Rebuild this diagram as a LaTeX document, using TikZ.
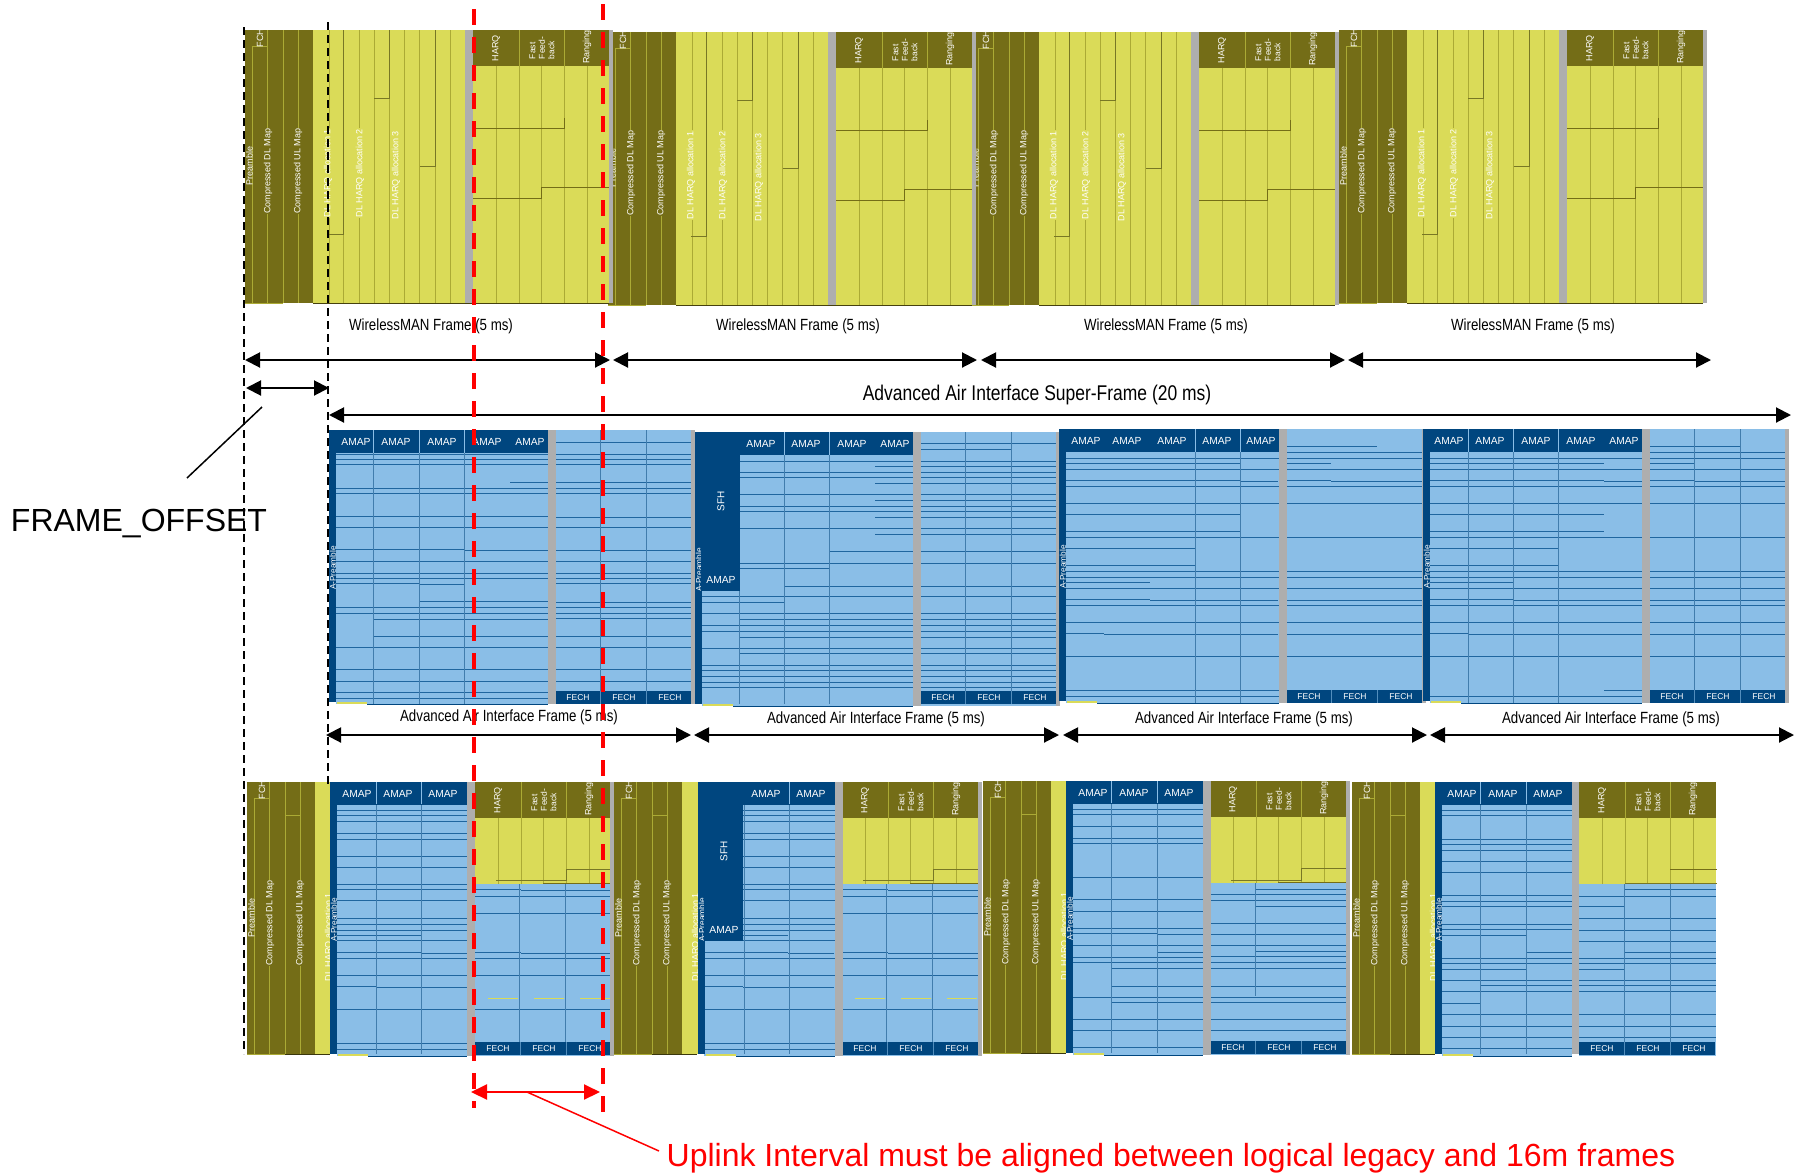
\documentclass[tikz,border=0pt]{standalone}
\usepackage{fontspec}
\setmainfont{Liberation Sans}
\newfontfamily\labelfont[FakeStretch=0.82]{Liberation Sans}
\usetikzlibrary{arrows.meta}
\definecolor{olivedark}{HTML}{746D17}
\definecolor{olivelight}{HTML}{ABAA35}
\definecolor{yellowfill}{HTML}{DADB58}
\definecolor{grayband}{HTML}{AEAEAE}
\definecolor{bluefill}{HTML}{8ABEE7}
\definecolor{bluedark}{HTML}{00467F}
\definecolor{blueline}{HTML}{20669F}
\definecolor{redline}{HTML}{FF0000}
\tikzset{
	vlabel/.style={text=white,rotate=90,inner sep=0.5pt,font=\fontsize{9}{9.5}\selectfont},
	hlabel/.style={text=white,inner sep=0.5pt,font=\fontsize{10.3}{11}\selectfont},
	fechlabel/.style={text=white,inner sep=0.5pt,font=\fontsize{8.5}{9}\selectfont},
	framelabel/.style={inner sep=0pt,font=\labelfont\fontsize{16.2}{17}\selectfont},
	hline/.style={draw=blueline,line width=1pt},
	vline/.style={draw=blueline!85!white,line width=1pt},
	yline/.style={draw=olivelight,line width=1pt},
	stepline/.style={draw=olivedark,line width=1pt},
	edgeline/.style={draw=olivelight,line width=1pt},
	dimarrow/.style={line width=2pt,{Triangle[length=15pt,width=15pt]}-{Triangle[length=15pt,width=15pt]}},
	reddim/.style={draw=redline,line width=2pt,{Triangle[length=16pt,width=15pt]}-{Triangle[length=16pt,width=15pt]}},
	blackdash/.style={line width=2pt,dash pattern=on 8pt off 5pt},
	reddash/.style={draw=redline,line width=4pt,dash pattern=on 16pt off 12pt},
}
% line tables, y relative to the frame top
\newcommand{\aailines}{29,40,57,74,108,142,148,159,176,193,227,267}
\newcommand{\aaiparts}{34/7/181,51/7/181,52/181/219,85/7/181,102/7/181,119/7/136,136/7/136,153/7/91,170/7/91,171/91/219,204/7/45,205/45/219}
\newcommand{\mixlines}{28,33,39,51,57,74,85,102,107,118,136,142,148,158,176,193,227,261,267}
\newcommand{\mixparts}{153/90/174,170/90/174,171/174/220,204/90/129,205/129/220}
\newcommand{\mixrlines}{114,131,176,193,227}
\newcommand{\mixrparts}{107/0/46,108/46/136,170/0/46,171/46/136}
% lines across one x range
\newcommand{\hfull}[4]{\edef\tmplist{#4}
	\foreach \yy in \tmplist {\draw[hline] (#1,#3+\yy) -- (#2,#3+\yy);}}
% y/from/to, from and to relative to x0
\newcommand{\hpart}[3]{\edef\tmplist{#3}
	\foreach \yy/\xa/\xb in \tmplist {\draw[hline] (#1+\xa,#2+\yy) -- (#1+\xb,#2+\yy);}}
\newcommand{\vcols}[5]{\foreach \xx in {#5} {\draw[vline] (#1+\xx,#2+#3) -- (#1+\xx,#2+#4);}}
% preamble, FCH and the two maps
\newcommand{\darkpart}[4]{
	\fill[olivedark] (#2,#3) rectangle (#2+68,#3+#4);
	\draw[edgeline] (#2+7,#3+16) -- (#2+22,#3+16);
	\foreach \xx in {22,53} {\draw[edgeline] (#2+\xx,#3) -- (#2+\xx,#3+#4);}
	\draw[edgeline] (#2+7,#3+16) -- (#2+7,#3+#4);
	\draw[edgeline] (#2+38,#3) -- (#2+38,#3+#4);
	\draw[edgeline] (#2,#3+#4) -- (#2+38,#3+#4);
	\draw (#2+15,#3+8) node[vlabel] (#1-fch) {FCH};
	\draw (#2+4.5,#3+136) node[vlabel] (#1-pre) {Preamble};
	\draw (#2+23,#3+141) node[vlabel,fill=olivedark] (#1-dlmap) {Compressed DL Map};
	\draw (#2+53,#3+141) node[vlabel,fill=olivedark] (#1-ulmap) {Compressed UL Map};
}
% HARQ header over a yellow area of height #4
\newcommand{\harqhead}[4]{
	\fill[yellowfill] (#2,#3) rectangle (#2+137,#3+#4);
	\fill[olivedark] (#2,#3) rectangle (#2+137,#3+36);
	\foreach \xx in {23,46,68,91,114} {\draw[yline] (#2+\xx,#3+36) -- (#2+\xx,#3+#4);}
	\foreach \xx in {46,91} {\draw[edgeline] (#2+\xx,#3) -- (#2+\xx,#3+36);}
	\draw (#2+23,#3+18) node[vlabel] (#1-harq) {HARQ};
	\draw (#2+69,#3+18) node[vlabel,align=left,font=\fontsize{8.5}{9.5}\selectfont] (#1-fast) {Fast\\Feed-\\back};
	\draw (#2+114,#3+17) node[vlabel] (#1-rang) {Ranging};
}
% one legacy frame of the top row
\newcommand{\wmframe}[3]{
	\darkpart{#1}{#2}{#3}{273}
	\fill[yellowfill] (#2+68,#3) rectangle (#2+220,#3+273);
	\foreach \xx in {84,114,129,159,174,205} {\draw[yline] (#2+\xx,#3) -- (#2+\xx,#3+273);}
	\foreach \xx/\yy in {98/204,144/68,190/136} {
		\draw[yline] (#2+\xx,#3+\yy) -- (#2+\xx,#3+273);
		\draw[olivelight!70!black,line width=1pt] (#2+\xx,#3) -- (#2+\xx,#3+\yy) -- (#2+\xx-15,#3+\yy);
	}
	\draw (#2+83,#3+143) node[vlabel,fill=yellowfill] (#1-alloca) {DL HARQ allocation 1};
	\draw (#2+115,#3+143) node[vlabel,fill=yellowfill] (#1-allocb) {DL HARQ allocation 2};
	\draw (#2+151,#3+145) node[vlabel,fill=yellowfill] (#1-allocc) {DL HARQ allocation 3};
	\harqhead{#1}{#2+228}{#3}{273}
	\draw[stepline] (#2+228,#3+98) -- (#2+319,#3+98) -- (#2+319,#3+88);
	\draw[stepline] (#2+228,#3+168) -- (#2+296,#3+168) -- (#2+296,#3+157) -- (#2+365,#3+157);
	\draw[olivedark!60!black,line width=1pt] (#2+68,#3+273) -- (#2+364,#3+273);
	\fill[grayband] (#2+220,#3) rectangle (#2+228,#3+273);
	\fill[grayband] (#2+364,#3) rectangle (#2+368,#3+273);
}
\newcommand{\aaibody}[3]{\fill[bluefill] (#1,#2) rectangle (#1+#3,#2+274);}
% A-Preamble bar and AMAP header
\newcommand{\amapbar}[5]{
	\fill[bluedark] (#2,#4) rectangle (#2+#3,#4+23);
	\fill[bluedark] (#2,#4) rectangle (#2+7,#4+272);
	\fill[yellowfill] (#2+8,#4+272) rectangle (#2+38,#4+274);
	\draw[bluedark,line width=1pt] (#2+38,#4+274) -- (#2+#3,#4+274);
	\draw (#2+4,#4+138) node[vlabel,font=\fontsize{8.3}{9}\selectfont] (#1-apre) {A-Preamble};
	\foreach \ax [count=\ai] in {#5} {\draw (#2+\ax,#4+12) node[hlabel] (#1-amap\ai) {AMAP};}
}
\newcommand{\sfhblock}[3]{
	\fill[bluedark] (#2+6,#3) rectangle (#2+45,#3+159);
	\draw (#2+26,#3+69) node[vlabel,font=\fontsize{10}{11}\selectfont] (#1-sfh) {SFH};
	\draw (#2+26,#3+148) node[hlabel] (#1-amapb) {AMAP};
}
\newcommand{\fechbar}[3]{
	\fill[bluedark] (#2,#3+261) rectangle (#2+136,#3+274);
	\foreach \xx in {45,91} {\draw[vline,draw=bluefill!60!bluedark] (#2+\xx,#3+261) -- (#2+\xx,#3+274);}
	\foreach \xx [count=\ai] in {23,69,115} {\draw (#2+\xx,#3+267.5) node[fechlabel] (#1-fech\ai) {FECH};}
}
\newcommand{\graybands}[3]{
	\fill[grayband] (#1+#3,#2) rectangle (#1+#3+8,#2+274);
	\fill[grayband] (#1+#3+143,#2) rectangle (#1+#3+147,#2+274);
}
% legacy zone in front of the blue zone, bottom row
\newcommand{\mixleft}[3]{
	\darkpart{#1}{#2}{#3}{272}
	\draw[edgeline] (#2+38,#3+33) -- (#2+53,#3+33);
	\draw[olivedark!50!black,line width=1pt] (#2+38,#3+272) -- (#2+83,#3+272);
	\fill[yellowfill] (#2+68,#3) rectangle (#2+84,#3+272);
	\draw (#2+82,#3+155) node[vlabel] (#1-alloc) {DL HARQ allocation 1};
}
\newcommand{\yellowdash}[2]{\foreach \xx in {13,59,105} {\draw[yellowfill,line width=1pt] (#1+\xx,#2+216) -- (#1+\xx+30,#2+216);}}
\begin{document}
\begin{tikzpicture}[x=1pt,y=-1pt]
	\useasboundingbox (0,0) rectangle (1796,1173);
	% top row, last frame first
	\wmframe{wmd}{1339}{30}
	\wmframe{wmc}{971}{32}
	\wmframe{wmb}{608}{32}
	\wmframe{wma}{245}{30}
	\draw (431, 326) node[framelabel] (wmlabela) {WirelessMAN Frame (5 ms)};
	\draw (798, 326) node[framelabel] (wmlabelb) {WirelessMAN Frame (5 ms)};
	\draw (1166,326) node[framelabel] (wmlabelc) {WirelessMAN Frame (5 ms)};
	\draw (1533,326) node[framelabel] (wmlabeld) {WirelessMAN Frame (5 ms)};
	% middle row
	\aaibody{329+7}{430}{212}
	\hfull{336}{548}{430}{24,29,34,58,63,86,97,131,143,148,177,183,217,239,251,262,268}
	\hpart{329}{430}{52/181/219,119/7/135,120/135/219,153/7/90,154/90/135,171/90/219,189/44/219,206/44/219}
	\vcols{329}{430}{23}{274}{44,90,135}
	\amapbar{aa}{329}{219}{430}{27,67,113,158,201}
	\draw[vline,draw=bluefill] (373,430) -- (373,453) (419,430) -- (419,453) (464,430) -- (464,453);
	\aaibody{555}{430}{136}
	\hfull{555}{691}{430}{12,24,29,34,52,58,63,87,97,120,131,143,148,153,172,177,183,188,206,217,239,251}
	\vcols{555}{430}{0}{274}{45,91}
	\fechbar{aa}{555}{430}
	\graybands{329}{430}{219}

	\aaibody{695+7}{432}{211}
	\hfull{702}{913}{432}{29,40,45,62,74,79,96,131,164,181,193,199,216,233,238,244,250,255}
	\hpart{695}{432}{34/180/218,51/180/218,68/180/218,85/180/218,102/180/218,119/134/218,136/44/134,154/89/218,170/7/89,187/44/218,205/44/218,221/44/218}
	\vcols{695}{432}{23}{272}{44,89,134}
	\amapbar{ab}{695}{218}{432}{66,111,157,200}
	\sfhblock{ab}{695}{432}
	\draw[vline,draw=bluefill] (784,432) -- (784,455) (829,432) -- (829,455);
	\aaibody{920}{432}{136}
	\hfull{920}{1056}{432}{29,34,40,45,51,62,68,74,79,85,96,102,119,131,154,164,181,187,193,199,205,216,221,233,238,244,250,255}
	\hpart{920}{432}{11/0/136,17/0/91}
	\vcols{920}{432}{0}{272}{45,91}
	\fechbar{ab}{920}{430}
	\graybands{695}{432}{218}

	\aaibody{1059+7}{429}{213}
	\hfull{1066}{1279}{429}{\aailines,261}
	\hpart{1059}{429}{\aaiparts}
	\vcols{1059}{429}{23}{274}{136,181}
	\amapbar{ac}{1059}{220}{429}{27,68,113,158,202}
	\draw[vline,draw=bluefill] (1195,429) -- (1195,452) (1240,429) -- (1240,452);
	\aaibody{1286}{429}{136}
	\hfull{1286}{1422}{429}{23,29,40,57,74,108,142,148,159,171,176,193,205,227}
	\hpart{1286}{429}{17/0/91,34/0/45,51/0/45,52/45/136}
	\fechbar{ac}{1286}{429}
	\graybands{1059}{429}{220}

	\aaibody{1423+7}{429}{212}
	\hfull{1430}{1642}{429}{\aailines}
	\hpart{1423}{429}{\aaiparts,261/181/219}
	\vcols{1423}{429}{23}{274}{45,90,135}
	\amapbar{ad}{1423}{219}{429}{26,67,113,158,201}
	\draw[vline,draw=bluefill] (1468,429) -- (1468,452) (1513,429) -- (1513,452) (1558,429) -- (1558,452);
	\aaibody{1649}{429}{136}
	\hfull{1649}{1785}{429}{23,29,40,57,74,108,142,148,159,171,176,193,205,227}
	\hpart{1649}{429}{17/0/91,34/0/45,51/0/45,52/45/136}
	\vcols{1649}{429}{0}{274}{45,91}
	\fechbar{ad}{1649}{429}
	\graybands{1423}{429}{219}
	\draw (509, 717.5) node[framelabel] (ailabela) {Advanced Air Interface Frame (5 ms)};
	\draw (876, 719.5) node[framelabel] (ailabelb) {Advanced Air Interface Frame (5 ms)};
	\draw (1244,719.5) node[framelabel] (ailabelc) {Advanced Air Interface Frame (5 ms)};
	\draw (1611,719.5) node[framelabel] (ailabeld) {Advanced Air Interface Frame (5 ms)};
	% bottom row
	\mixleft{ma}{247}{782}
	\aaibody{247+90}{782}{130}
	\hfull{337}{467}{782}{\mixlines}
	\hpart{247}{782}{\mixparts}
	\vcols{247}{782}{22}{272}{129,174}
	\amapbar{ma}{247+83}{137}{782}{27,68,113}
	\draw[vline,draw=bluefill] (376,782) -- (376,804) (421,782) -- (421,804);
	\aaibody{475}{782}{136}
	\hfull{475}{611}{782}{\mixrlines}
	\hpart{475}{782}{\mixrparts}
	\vcols{475}{782}{102}{272}{44,90}
	\yellowdash{475}{782}
	\harqhead{ma}{475}{782}{102}
	\draw[stepline,draw=olivelight!70!black] (496,880) -- (566,880) -- (566,869) -- (612,869);
	\draw[stepline] (543,883) -- (612,883);
	\fechbar{ma}{475}{781}
	\graybands{247}{782}{220}

	\mixleft{mb}{614}{782}
	\aaibody{614+90}{782}{131}
	\hfull{704}{835}{782}{\mixlines}
	\hpart{614}{782}{\mixparts}
	\vcols{614}{782}{22}{272}{130,175}
	\amapbar{mb}{614+84}{137}{782}{68,113}
	\sfhblock{mb}{614+84}{782}
	\draw[vline,draw=bluefill] (789,782) -- (789,804);
	\aaibody{842}{782}{136}
	\hfull{842}{978}{782}{\mixrlines}
	\hpart{842}{782}{\mixrparts}
	\vcols{842}{782}{102}{272}{44,90}
	\yellowdash{842}{782}
	\harqhead{mb}{842}{782}{102}
	\draw[stepline,draw=olivelight!70!black] (863,880) -- (933,880) -- (933,869) -- (979,869);
	\draw[stepline] (910,883) -- (979,883);
	\fechbar{mb}{842}{781}
	\graybands{614}{782}{221}

	\mixleft{mc}{983}{781}
	\aaibody{983+90}{781}{130}
	\hfull{1073}{1203}{781}{28,33,45,57,62,96,118,130,147,164,176,181,216,238,249,266}
	\hpart{983}{781}{152/90/174,153/174/220,171/174/220,187/128/220,205/128/220,221/128/220}
	\vcols{983}{781}{22}{272}{128,174}
	\amapbar{mc}{983+83}{137}{781}{27,68,113}
	\draw[vline,draw=bluefill] (1111,781) -- (1111,803) (1157,781) -- (1157,803);
	\aaibody{1210}{781}{137}
	\hfull{1210}{1347}{781}{113,119,142,153,164,175,181,187,205,216,221,238,249}
	\hpart{1210}{781}{108/45/137,125/45/137,170/45/137}
	\vcols{1210}{781}{102}{215}{45}
	\harqhead{mc}{1210}{781}{102}
	\draw[stepline,draw=olivelight!70!black] (1231,880) -- (1301,880) -- (1301,868) -- (1348,868);
	\draw[stepline] (1278,882) -- (1348,882);
	\fechbar{mc}{1210}{780}
	\graybands{983}{781}{220}

	\mixleft{md}{1352}{782}
	\aaibody{1352+90}{782}{130}
	\hfull{1442}{1572}{782}{28,33,57,62,68,79,90,113,119,124,142,147,176,181,198,232,244,255,266}
	\hpart{1352}{782}{153/90/174,170/174/220,187/90/174,203/128/220,209/90/220,221/90/128}
	\vcols{1352}{782}{22}{272}{128,174}
	\amapbar{md}{1352+83}{137}{782}{27,68,113}
	\draw[vline,draw=bluefill] (1480,782) -- (1480,804) (1526,782) -- (1526,804);
	\aaibody{1579}{782}{137}
	\hfull{1579}{1716}{782}{114,136,148,159,176,181,198,203,209,232,244,255}
	\hpart{1579}{782}{107/45/137,124/0/45,170/45/137,187/0/45}
	\vcols{1579}{782}{102}{272}{45,91}
	\harqhead{md}{1579}{782}{102}
	\draw[stepline] (1670,869) -- (1717,869);
	\draw[stepline,draw=olivelight!70!black] (1625,883) -- (1717,883);
	\fechbar{md}{1579}{781}
	\fill[grayband] (1572,782) rectangle (1579,1054);
	% dimension arrows
	\coordinate (wmaa) at (245,360);	\coordinate (wmab) at (610,360);
	\coordinate (wmba) at (613,360);	\coordinate (wmbb) at (977,360);
	\coordinate (wmca) at (981,360);	\coordinate (wmcb) at (1345,360);
	\coordinate (wmda) at (1348,360);	\coordinate (wmdb) at (1711,360);
	\coordinate (offa) at (246,388);	\coordinate (offb) at (329,388);
	\coordinate (supa) at (329,415);	\coordinate (supb) at (1791,415);
	\coordinate (aiaa) at (326,735);	\coordinate (aiab) at (691,735);
	\coordinate (aiba) at (694,735);	\coordinate (aibb) at (1059,735);
	\coordinate (aica) at (1063,735);	\coordinate (aicb) at (1427,735);
	\coordinate (aida) at (1430,735);	\coordinate (aidb) at (1794,735);
	\draw[dimarrow] (wmaa) -- (wmab);
	\draw[dimarrow] (wmba) -- (wmbb);
	\draw[dimarrow] (wmca) -- (wmcb);
	\draw[dimarrow] (wmda) -- (wmdb);
	\draw[dimarrow] (offa) -- (offb);
	\draw[dimarrow] (supa) -- (supb);
	\draw[dimarrow] (aiaa) -- (aiab);
	\draw[dimarrow] (aiba) -- (aibb);
	\draw[dimarrow] (aica) -- (aicb);
	\draw[dimarrow] (aida) -- (aidb);
	\draw (1037,395) node[framelabel,font=\labelfont\fontsize{21.3}{22}\selectfont] (suplabel) {Advanced Air Interface Super-Frame (20 ms)};
	% offset callout
	\draw (139,523) node[inner sep=0pt,font=\fontsize{32}{34}\selectfont] (offlabel) {FRAME\_OFFSET};
	\coordinate (offtip) at (262,407);
	\coordinate (offend) at (187,478);
	\draw[line width=1.5pt] (offtip) -- (offend);
	% frame boundaries
	\coordinate (bdaa) at (244,27);		\coordinate (bdab) at (244,1054);
	\coordinate (bdba) at (328,22);		\coordinate (bdbb) at (328,785);
	\draw[blackdash] (bdaa) -- (bdab);
	\draw[blackdash] (bdba) -- (bdbb);
	% uplink interval
	\coordinate (ula) at (474,9);		\coordinate (ulb) at (474,1108);
	\coordinate (ura) at (603,4);		\coordinate (urb) at (603,1112);
	\draw[reddash] (ula) -- (ulb);
	\draw[reddash] (ura) -- (urb);
	\coordinate (rda) at (471,1092);	\coordinate (rdb) at (600,1092);
	\draw[reddim] (rda) -- (rdb);
	\coordinate (rta) at (527,1092);	\coordinate (rtb) at (659,1151);
	\draw[draw=redline,line width=1.5pt] (rta) -- (rtb);
	\draw (1171,1158.5) node[inner sep=0pt,text=redline,font=\fontsize{32}{34}\selectfont] (ullabel) {Uplink Interval must be aligned between logical legacy and 16m frames};
\end{tikzpicture}
\end{document}
